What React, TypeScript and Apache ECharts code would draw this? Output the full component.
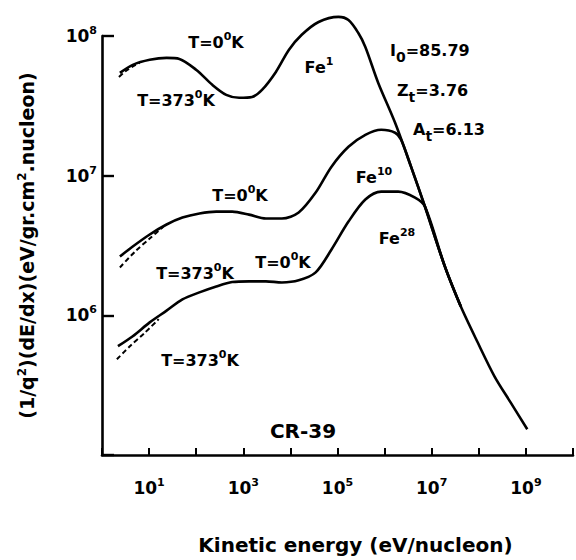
import React, { useEffect, useRef } from "react";
import * as echarts from "echarts";

// ---- data (energy eV/nucleon, value) ----
const fe1Cold: [number, number][] = [
  [2.4, 5.44e7], [4.5, 6.21e7], [10.3, 6.75e7], [23.5, 6.97e7], [44, 6.85e7],
  [101, 5.71e7], [220, 4.47e7], [434, 3.79e7], [815, 3.61e7], [1535, 3.66e7],
  [2495, 4.11e7], [4920, 5.53e7], [9250, 7.94e7], [1.74e4, 1.02e8], [3.97e4, 1.26e8],
  [1.05e5, 1.37e8], [1.71e5, 1.3e8], [2.77e5, 1.05e8], [3.9e5, 8.34e7], [7.33e5, 4.61e7],
  [1.67e6, 2.39e7], [3.64e6, 1.16e7], [7.19e6, 6.01e6], [1.9e7, 2.24e6], [4.13e7, 1.16e6],
  [9.44e7, 6.41e5], [2.15e8, 3.66e5], [4.69e8, 2.39e5], [1.07e9, 1.53e5],
];
const fe1Hot: [number, number][] = [
  [2.29, 5.09e7], [3.21, 5.62e7], [4.73, 6.11e7], [6.3, 6.42e7],
];
const fe10Cold: [number, number][] = [
  [2.4, 2.64e6], [4.5, 3.11e6], [10.3, 3.79e6], [23.5, 4.47e6], [51, 5.01e6],
  [117, 5.36e6], [267, 5.53e6], [581, 5.53e6], [1324, 5.26e6], [3027, 4.93e6],
  [6590, 4.93e6], [1.5e4, 5.45e6], [3.44e4, 7.57e6], [7.46e4, 1.16e7], [1.71e5, 1.61e7],
  [3.9e5, 1.96e7], [8.47e5, 2.13e7], [1.67e6, 2.03e7], [2.24e6, 1.81e7], [3.64e6, 1.16e7],
  [7.19e6, 6.01e6], [1.9e7, 2.24e6], [4.13e7, 1.16e6],
];
const fe10Hot: [number, number][] = [
  [2.4, 2.2e6], [4.97, 2.85e6], [10.3, 3.55e6], [20, 4.3e6],
];
const fe28Cold: [number, number][] = [
  [2.18, 6.01e5], [4.5, 7.08e5], [10.3, 8.9e5], [23.5, 1.08e6], [51, 1.3e6],
  [117, 1.46e6], [267, 1.61e6], [581, 1.73e6], [1324, 1.75e6], [3027, 1.75e6],
  [6590, 1.72e6], [1.5e4, 1.78e6], [3.44e4, 2.03e6], [7.46e4, 2.96e6], [1.71e5, 4.69e6],
  [3.9e5, 6.75e6], [8.47e5, 7.69e6], [1.94e6, 7.69e6], [4.43e6, 6.97e6], [7.19e6, 6.01e6],
  [1.9e7, 2.24e6], [4.13e7, 1.16e6],
];
const fe28Hot: [number, number][] = [
  [2.07, 4.85e5], [3.9, 6.0e5], [8.1, 7.5e5], [16, 9.4e5],
];

const xLabelExponents = [1, 3, 5, 7, 9];
const yLabelExponents = [6, 7, 8];

const FONT = "DejaVu Sans";
const INK = "#000";

const baseRich = {
  b: { fontSize: 16, fontWeight: "bold", fontFamily: FONT, fill: INK, lineHeight: 22 },
  s: { fontSize: 11, fontWeight: "bold", fontFamily: FONT, fill: INK, lineHeight: 11, verticalAlign: "top" },
  c: { fontSize: 20, fontWeight: "bold", fontFamily: FONT, fill: INK, lineHeight: 24 },
};
const subRich = {
  b: { fontSize: 16, fontWeight: "bold", fontFamily: FONT, fill: INK, lineHeight: 28 },
  u: { fontSize: 14, fontWeight: "bold", fontFamily: FONT, fill: INK, lineHeight: 14, verticalAlign: "bottom" },
};

function label(text: string, x: number, y: number, align: string = "center", rich: any = baseRich) {
  return {
    type: "text",
    x,
    y,
    silent: true,
    style: {
      text,
      rich,
      fill: INK,
      fontFamily: FONT,
      fontWeight: "bold",
      fontSize: 16,
      align,
      verticalAlign: "middle",
      textAlign: align,
      textVerticalAlign: "middle",
    },
  };
}

function expOf(v: number) {
  return Math.round(Math.log10(v));
}

export default function App() {
  const ref = useRef<HTMLDivElement>(null);
  useEffect(() => {
    if (!ref.current) return;
    const chart = echarts.init(ref.current, undefined, { renderer: "svg" });
    const curve = (name: string, data: [number, number][], dashed = false) => ({
      name,
      type: "line",
      data,
      showSymbol: false,
      symbol: "none",
      smooth: 0.3,
      clip: false,
      silent: true,
      lineStyle: { color: INK, width: dashed ? 2 : 2.6, type: dashed ? [5, 3] : "solid" },
      z: dashed ? 3 : 2,
    });
    const tickRich = {
      b: { fontSize: 17, fontWeight: "bold", fontFamily: FONT, color: INK, lineHeight: 22 },
      s: { fontSize: 11, fontWeight: "bold", fontFamily: FONT, color: INK, lineHeight: 11, verticalAlign: "top" },
    };
    chart.setOption({
      animation: false,
      backgroundColor: "#fff",
      grid: { left: 102, right: 0, top: 36, bottom: 104, containLabel: false },
      xAxis: {
        type: "log",
        logBase: 10,
        min: 1,
        max: 1e10,
        interval: 1,
        name: "Kinetic energy (eV/nucleon)",
        nameLocation: "middle",
        nameGap: 80,
        nameTextStyle: {
          fontFamily: FONT, fontWeight: "bold", fontSize: 20, color: INK,
          padding: [0, 0, 0, 36],
        },
        axisLine: { show: true, lineStyle: { color: INK, width: 2.6 } },
        axisTick: { show: true, inside: true, length: 7, lineStyle: { color: INK, width: 2 } },
        minorTick: { show: false },
        splitLine: { show: false },
        axisLabel: {
          margin: 22,
          formatter: (v: number) => {
            const e = expOf(v);
            return xLabelExponents.includes(e) ? `{b|10}{s|${e}}` : "";
          },
          rich: tickRich,
        },
      },
      yAxis: {
        type: "log",
        logBase: 10,
        min: 1e5,
        max: 1e8,
        interval: 1,
        name: "{b|(1/q}{s|2}{b|)(dE/dx)(eV/gr.cm}{s|2}{b|.nucleon)}",
        nameLocation: "middle",
        nameRotate: 90,
        nameGap: 64,
        nameTextStyle: {
          rich: {
            b: { fontSize: 19, fontWeight: "bold", fontFamily: FONT, color: INK, lineHeight: 22 },
            s: { fontSize: 12, fontWeight: "bold", fontFamily: FONT, color: INK, lineHeight: 12, verticalAlign: "top" },
          },
        },
        axisLine: { show: true, lineStyle: { color: INK, width: 2.6 } },
        axisTick: { show: true, inside: true, length: 12, lineStyle: { color: INK, width: 2.4 } },
        minorTick: { show: false },
        splitLine: { show: false },
        axisLabel: {
          margin: 5,
          formatter: (v: number) => {
            const e = expOf(v);
            return yLabelExponents.includes(e) ? `{b|10}{s|${e}}` : "";
          },
          rich: tickRich,
        },
      },
      series: [
        curve("Fe1 T=0K", fe1Cold),
        curve("Fe1 T=373K", fe1Hot, true),
        curve("Fe10 T=0K", fe10Cold),
        curve("Fe10 T=373K", fe10Hot, true),
        curve("Fe28 T=0K", fe28Cold),
        curve("Fe28 T=373K", fe28Hot, true),
      ],
      graphic: [
        label("{b|T=0}{s|0}{b|K}", 216, 42),
        label("{b|T=373}{s|0}{b|K}", 176, 100),
        label("{b|Fe}{s|1}", 319, 67),
        label("{b|I}{u|0}{b|=85.79}", 390, 50, "left", subRich),
        label("{b|Z}{u|t}{b|=3.76}", 397, 90, "left", subRich),
        label("{b|A}{u|t}{b|=6.13}", 413, 129, "left", subRich),
        label("{b|Fe}{s|10}", 374, 177),
        label("{b|T=0}{s|0}{b|K}", 240, 195),
        label("{b|T=373}{s|0}{b|K}", 195, 273),
        label("{b|T=0}{s|0}{b|K}", 283, 262),
        label("{b|Fe}{s|28}", 397, 238),
        label("{b|T=373}{s|0}{b|K}", 200, 360),
        label("{c|CR-39}", 303, 431),
      ],
    });
    return () => chart.dispose();
  }, []);
  return (
    <div
      ref={ref}
      style={{ position: "absolute", left: 0, top: 0, width: 576, height: 560 }}
    />
  );
}
